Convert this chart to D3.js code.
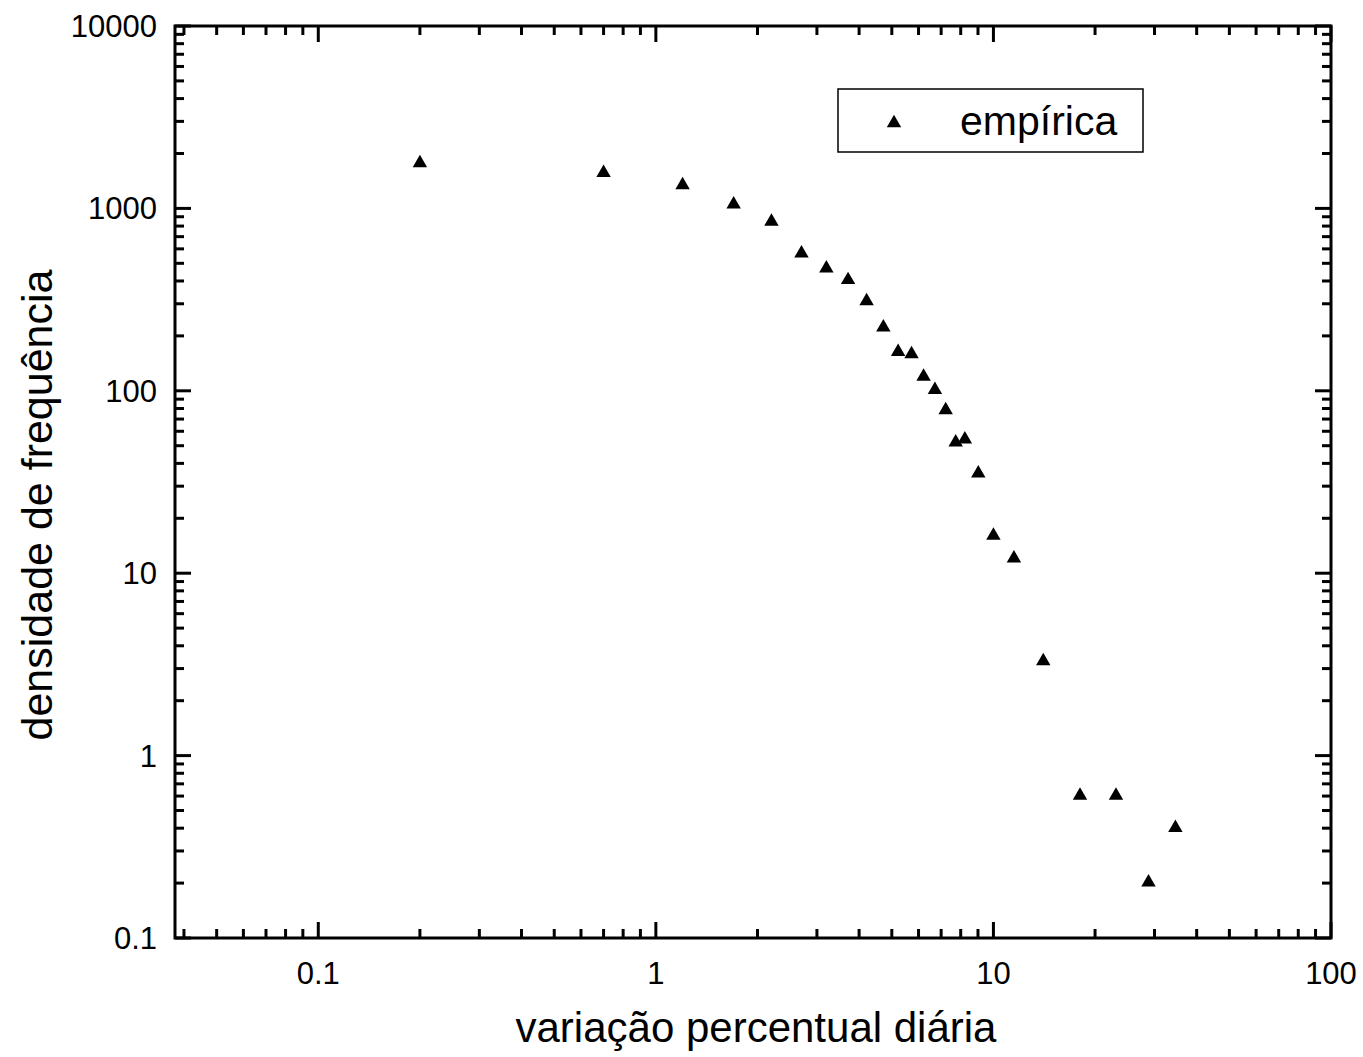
<!DOCTYPE html>
<html>
<head>
<meta charset="utf-8">
<script src="https://cdn.jsdelivr.net/npm/d3@7"></script>
<style>
  body { margin: 0; background: #fff; }
  svg { display: block; font-family: "Liberation Sans", Arial, sans-serif; }
</style>
</head>
<body>
<svg id="chart" width="1363" height="1057"></svg>
<script>
// data
var variacao = [0.2, 0.7, 1.2, 1.7, 2.2, 2.7, 3.2, 3.71, 4.21, 4.72, 5.22, 5.72, 6.21, 6.71, 7.22, 7.73, 8.23, 9.02, 10.0, 11.5, 14.05, 18.05, 23.07, 28.8, 34.6];
var densidade = [1820, 1610, 1380, 1080, 868, 582, 482, 416, 319, 229, 168, 163, 123, 104, 80.5, 53.5, 55.6, 36.2, 16.5, 12.4, 3.39, 0.62, 0.62, 0.207, 0.413];
var xTicks = [0.1, 1, 10, 100];
var yTicks = [0.1, 1, 10, 100, 1000, 10000];
var xTickLabels = ["0.1", "1", "10", "100"];
var yTickLabels = ["0.1", "1", "10", "100", "1000", "10000"];
var legendLabel = "empírica";
var xTitle = "variação percentual diária";
var yTitle = "densidade de frequência";

// plot box (note: "top" is reserved on window, so use other names)
var pLeft = 175, pRight = 1331, pTop = 26, pBottom = 938;

var svg = d3.select("#chart");

var x = d3.scaleLog().domain([0.03763, 100]).range([pLeft, pRight]);
var y = d3.scaleLog().domain([0.1, 10000]).range([pBottom, pTop]);

// minor ticks 2..9 in every decade inside the domain
function minors(scale){
	var out = [];
	var d = scale.domain();
	for (var e = -3; e <= 5; e++){
		for (var m = 2; m <= 9; m++){
			var v = m * Math.pow(10, e);
			if (v >= d[0] * 0.999 && v <= d[1] * 1.001) out.push(v);
		}
	}
	return out;
}

var g = svg.append("g").attr("stroke", "#000").attr("stroke-width", 3).attr("fill", "none");

// major + minor ticks, pointing inward on all four sides
var majorLen = 16, minorLen = 9;
xTicks.forEach(function(v){
	g.append("line").attr("x1", x(v)).attr("x2", x(v)).attr("y1", pBottom).attr("y2", pBottom - majorLen);
	g.append("line").attr("x1", x(v)).attr("x2", x(v)).attr("y1", pTop).attr("y2", pTop + majorLen);
});
minors(x).forEach(function(v){
	g.append("line").attr("x1", x(v)).attr("x2", x(v)).attr("y1", pBottom).attr("y2", pBottom - minorLen);
	g.append("line").attr("x1", x(v)).attr("x2", x(v)).attr("y1", pTop).attr("y2", pTop + minorLen);
});
yTicks.forEach(function(v){
	g.append("line").attr("y1", y(v)).attr("y2", y(v)).attr("x1", pLeft).attr("x2", pLeft + majorLen);
	g.append("line").attr("y1", y(v)).attr("y2", y(v)).attr("x1", pRight).attr("x2", pRight - majorLen);
});
minors(y).forEach(function(v){
	g.append("line").attr("y1", y(v)).attr("y2", y(v)).attr("x1", pLeft).attr("x2", pLeft + minorLen);
	g.append("line").attr("y1", y(v)).attr("y2", y(v)).attr("x1", pRight).attr("x2", pRight - minorLen);
});

// frame
g.append("rect")
	.attr("x", pLeft).attr("y", pTop)
	.attr("width", pRight - pLeft).attr("height", pBottom - pTop)
	.attr("stroke-linejoin", "miter");

// tick labels
svg.append("g").selectAll("text").data(xTicks).enter().append("text")
	.attr("x", function(d){ return x(d); })
	.attr("y", pBottom + 46)
	.attr("text-anchor", "middle")
	.attr("font-size", 31)
	.text(function(d, i){ return xTickLabels[i]; });

svg.append("g").selectAll("text").data(yTicks).enter().append("text")
	.attr("x", pLeft - 18)
	.attr("y", function(d){ return y(d) + 11; })
	.attr("text-anchor", "end")
	.attr("font-size", 31)
	.text(function(d, i){ return yTickLabels[i]; });

// axis titles
svg.append("text")
	.attr("x", 756).attr("y", 1042)
	.attr("text-anchor", "middle")
	.attr("font-size", 42)
	.text(xTitle);

svg.append("text")
	.attr("transform", "translate(52,505) rotate(-90)")
	.attr("text-anchor", "middle")
	.attr("font-size", 43)
	.text(yTitle);

// triangles, centred on their bounding box like the original
var triSize = 90;
var tri = d3.symbol(d3.symbolTriangle, triSize);
var triOff = Math.sqrt(triSize / (Math.sqrt(3) * 3)) / 2;

svg.append("g").selectAll("path").data(variacao).enter().append("path")
	.attr("d", tri)
	.attr("fill", "#000")
	.attr("transform", function(d, i){
		return "translate(" + x(d) + "," + (y(densidade[i]) + triOff) + ")";
	});

// legend
var lg = svg.append("g");
lg.append("rect")
	.attr("x", 838).attr("y", 89)
	.attr("width", 305).attr("height", 63)
	.attr("fill", "#fff").attr("stroke", "#000").attr("stroke-width", 1.5);
lg.append("path")
	.attr("d", tri)
	.attr("fill", "#000")
	.attr("transform", "translate(894," + (121 + triOff) + ")");
lg.append("text")
	.attr("x", 960).attr("y", 135)
	.attr("font-size", 41)
	.text(legendLabel);
</script>
</body>
</html>
